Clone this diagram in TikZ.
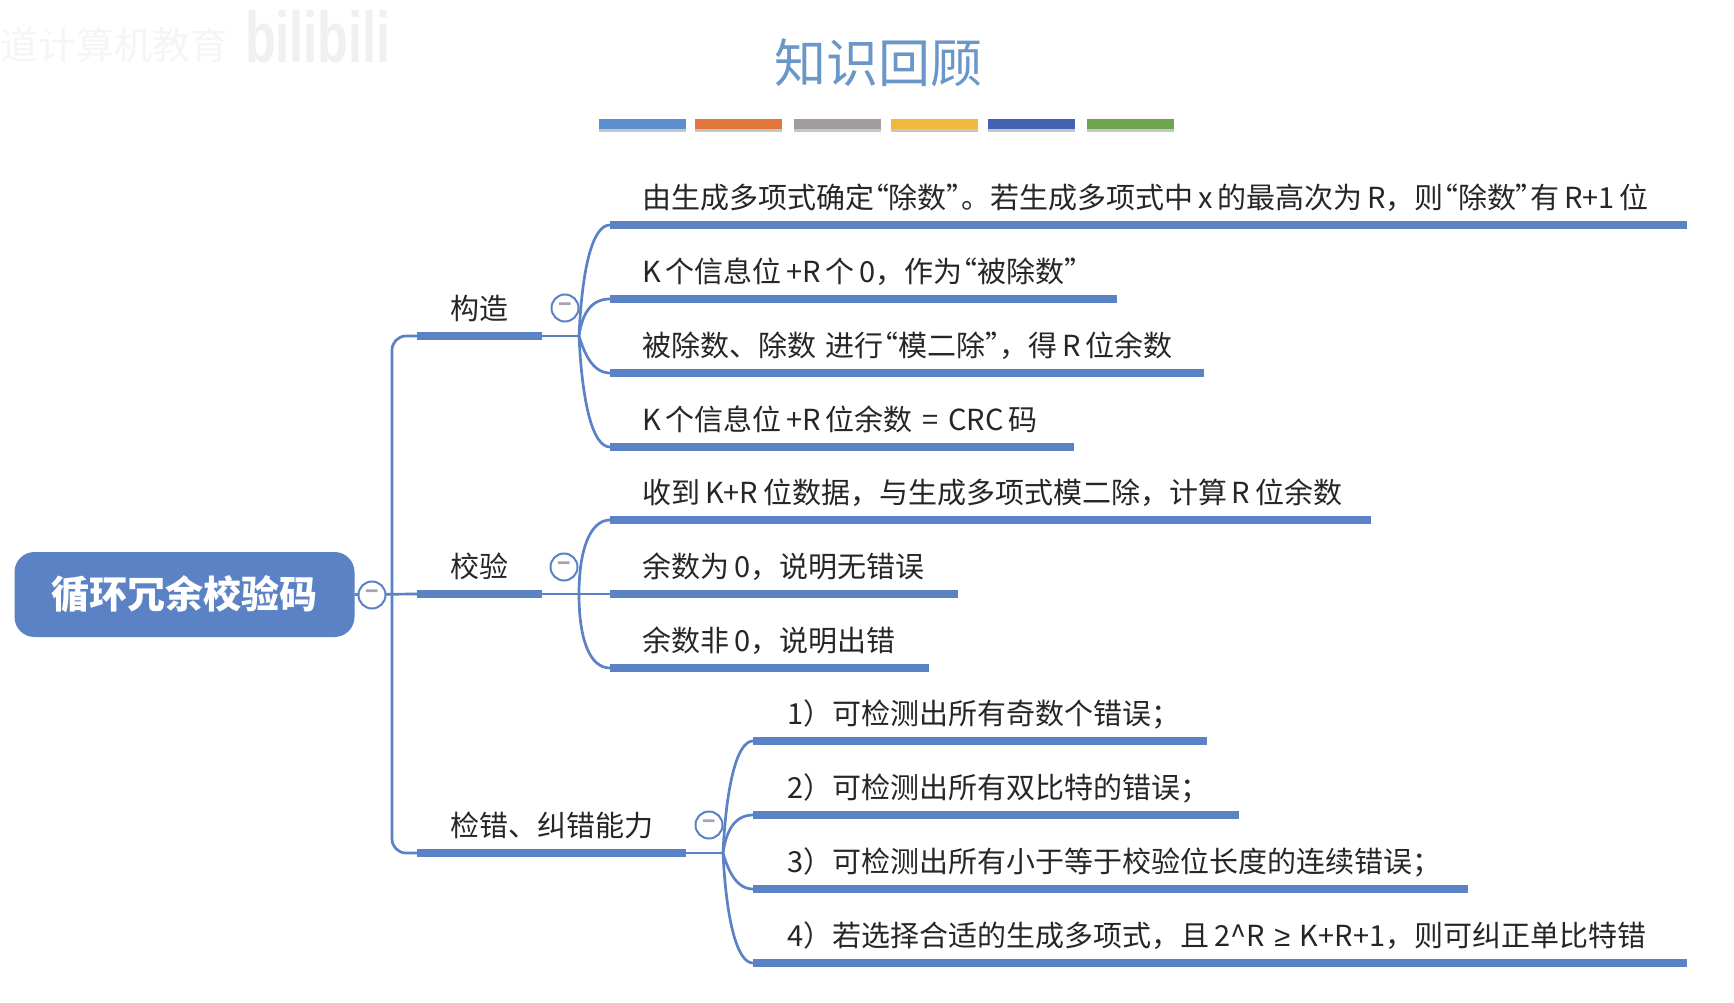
\documentclass[tikz,border=0pt]{standalone}
\usepackage{fontspec}
\setmainfont{Noto Sans CJK SC}
\newfontfamily\latinfont{Liberation Sans}
\newfontfamily\narrowfont[RawFeature=+palt]{Noto Sans CJK SC}
\usetikzlibrary{shadows}
\definecolor{mapblue}{HTML}{5B82C4}
\definecolor{titleblue}{HTML}{6A97C8}
\definecolor{minusgray}{HTML}{A9A4B4}
\newcommand{\px}[1]{\fontsize{#1}{#1}\selectfont}
\newcommand{\qopen}{{\narrowfont “}}
\newcommand{\qclose}{{\narrowfont ”}}
\begin{document}
\begin{tikzpicture}[
  x=1pt, y=-1pt,
  link/.style={mapblue, line width=2.7pt},
  bar/.style={rectangle, fill=mapblue, inner sep=0pt, minimum height=8pt, anchor=west},
  label/.style={anchor=base west, inner sep=0pt, text=black!85, font=\px{29}},
  toggle/.style={circle, draw=mapblue, line width=2pt, fill=white, inner sep=0pt, minimum size=27pt, text=minusgray, font=\bfseries\px{22}},
  swatch/.style={rectangle, inner sep=0pt, minimum width=87pt, minimum height=10pt, drop shadow={shadow xshift=0pt, shadow yshift=-3pt, opacity=.45}},
]
  \useasboundingbox (0,0) rectangle (1734,1003);
  % watermark
  \node[anchor=west, inner sep=0pt, text=black!4, font=\px{38}] (wmtext) at (0,45) {道计算机教育};
  \node[anchor=west, inner sep=0pt, text=black!6, font=\latinfont\bfseries\px{72}, xscale=.7] (wmlogo) at (245,37) {bilibili};
  % title
  \node[text=titleblue, font=\px{52}] (title) at (878,63) {知识回顾};
  \foreach \name/\xpos/\col in {sa/642.5/5B8FD0, sb/738.5/E0763A, sc/837/A09CA0, sd/934.5/F0B93C, se/1031.5/4263B4, sf/1130.5/6FA54E} {
    \definecolor{swatchcol}{HTML}{\col}
    \node[swatch, fill=swatchcol] (\name) at (\xpos,124) {};
  }
  % root
  \node[rectangle, rounded corners=20pt, fill=mapblue, minimum width=340pt, minimum height=85pt, text=white, font=\bfseries\px{38}] (root) at (184.5,594.5) {循环冗余校验码};
  % branches
  \node[bar, minimum width=125pt] (construct) at (417,336) {};
  \node[bar, minimum width=125pt] (verify) at (417,594) {};
  \node[bar, minimum width=269pt] (ability) at (417,853) {};
  \node[label] (constructtext) at ([shift={(33,-17)}]construct.west) {构造};
  \node[label] (verifytext) at ([shift={(33,-17)}]verify.west) {校验};
  \node[label] (abilitytext) at ([shift={(33,-17)}]ability.west) {检错、纠错能力};
  % leaves
  \foreach \name/\ypos/\len/\txt in {
    la/225/1077/{由生成多项式确定\qopen 除数\qclose 。若生成多项式中\,x\,的最高次为\,R，则\qopen 除数\qclose 有\,R+1\,位},
    lb/299/507/{K\,个信息位\,+R\,个\,0，作为\qopen 被除数\qclose},
    lc/373/594/{被除数、除数\,\,进行\qopen 模二除\qclose ，得\,R\,位余数},
    ld/447/464/{K\,个信息位\,+R\,位余数\,\,=\,\,CRC\,码},
    le/520/761/{收到\,K+R\,位数据，与生成多项式模二除，计算\,R\,位余数},
    lf/594/348/{余数为\,0，说明无错误},
    lg/668/319/{余数非\,0，说明出错}} {
    \node[bar, minimum width=\len pt] (\name) at (610,\ypos) {};
    \node[label] (\name text) at ([shift={(32,-17)}]\name.west) {\txt};
  }
  \foreach \name/\ypos/\len/\txt in {
    ma/741/454/{1）可检测出所有奇数个错误；},
    mb/815/486/{2）可检测出所有双比特的错误；},
    mc/889/715/{3）可检测出所有小于等于校验位长度的连续错误；},
    md/963/934/{4）若选择合适的生成多项式，且\,2\textasciicircum R\,\,{\latinfont ≥}\,\,K+R+1，则可纠正单比特错}} {
    \node[bar, minimum width=\len pt] (\name) at (753,\ypos) {};
    \node[label] (\name text) at ([shift={(34,-17)}]\name.west) {\txt};
  }
  % connectors
  \coordinate (trunk) at (392,594);
  \coordinate (forka) at (579,336);
  \coordinate (forkb) at (579,594);
  \coordinate (forkc) at (723,853);
  \draw[link] (root.east) -- (verify.west);
  \draw[link, rounded corners=14pt] (construct.west) -| (trunk) |- (ability.west);
  \draw[link] (construct.east) -- (forka);
  \draw[link] (verify.east) -- (lf.west);
  \draw[link] (ability.east) -- (forkc);
  \draw[link] (forka) .. controls (582,270) and (592,225) .. (la.west);
  \draw[link] (forka) .. controls (582,315) and (590,299) .. (lb.west);
  \draw[link] (forka) .. controls (584,352) and (592,373) .. (lc.west);
  \draw[link] (forka) .. controls (582,400) and (592,447) .. (ld.west);
  \draw[link] (forkb) .. controls (579,550) and (590,520) .. (le.west);
  \draw[link] (forkb) .. controls (579,640) and (590,668) .. (lg.west);
  \draw[link] (forkc) .. controls (726,790) and (736,741) .. (ma.west);
  \draw[link] (forkc) .. controls (726,832) and (734,815) .. (mb.west);
  \draw[link] (forkc) .. controls (728,870) and (736,889) .. (mc.west);
  \draw[link] (forkc) .. controls (726,915) and (736,963) .. (md.west);
  % toggles
  \node[toggle] (rootminus) at (372,595) {−};
  \node[toggle] (constructminus) at (565,308) {−};
  \node[toggle] (verifyminus) at (564,567) {−};
  \node[toggle] (abilityminus) at (709,825) {−};
\end{tikzpicture}
\end{document}
